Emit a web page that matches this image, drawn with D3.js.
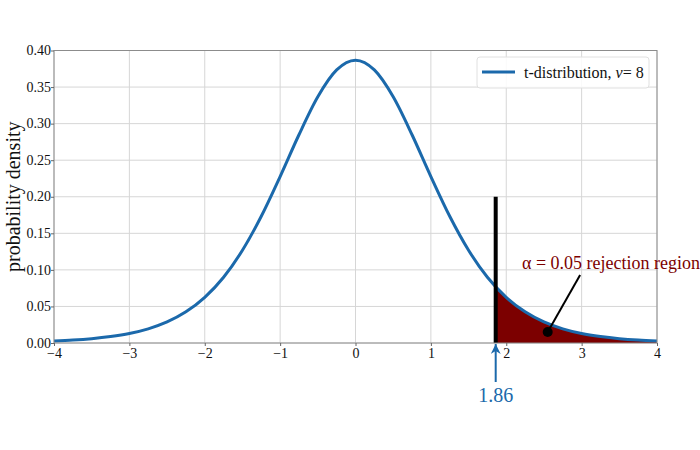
<!DOCTYPE html>
<html><head><meta charset="utf-8">
<script src="https://cdn.jsdelivr.net/npm/d3@7"></script>
<style>body{margin:0;background:#fff}svg{display:block}text{font-family:"Liberation Serif","DejaVu Serif",serif}</style>
</head><body><svg id="c" width="700" height="450"></svg>
<script>
const tValues = [-4,-3.75,-3.5,-3.25,-3,-2.75,-2.5,-2.25,-2,-1.75,-1.5,-1.25,-1,-0.75,-0.5,-0.25,0,0.25,0.5,0.75,1,1.25,1.5,1.75,2,2.25,2.5,2.75,3,3.25,3.5,3.75,4];
const density = [0.0028,0.0040,0.0059,0.0088,0.0130,0.0194,0.0288,0.0426,0.0624,0.0899,0.1268,0.1733,0.2276,0.2848,0.3367,0.3734,0.3867,0.3734,0.3367,0.2848,0.2276,0.1733,0.1268,0.0899,0.0624,0.0426,0.0288,0.0194,0.0130,0.0088,0.0059,0.0040,0.0028];
const critical = 1.86;
const criticalDensity = 0.0767;
const xTicks = [-4,-3,-2,-1,0,1,2,3,4];
const yTicks = [0,0.05,0.10,0.15,0.20,0.25,0.30,0.35,0.40];
const legendLabel = "t-distribution, ";
const annotationText = "α = 0.05 rejection region";

const svg = d3.select("#c");
const x = d3.scaleLinear().domain([-4,4]).range([54,657]);
const y = d3.scaleLinear().domain([0,0.4]).range([343,50.5]);
const blue = "#1b69ab", red = "#7c0000";

// grid
svg.append("g").selectAll("line").data(xTicks).join("line")
  .attr("x1",d=>x(d)).attr("x2",d=>x(d)).attr("y1",y(0)).attr("y2",y(0.4))
  .attr("stroke","#d6d6d6").attr("stroke-width",1);
svg.append("g").selectAll("line").data(yTicks).join("line")
  .attr("x1",x(-4)).attr("x2",x(4)).attr("y1",d=>y(d)).attr("y2",d=>y(d))
  .attr("stroke","#d6d6d6").attr("stroke-width",1);

const pts = tValues.map((t,i)=>[t,density[i]]);
const shade = [[critical,criticalDensity]].concat(pts.filter(p=>p[0]>critical));

svg.append("path").datum(shade)
  .attr("d", d3.area().x(d=>x(d[0])).y0(y(0)).y1(d=>y(d[1])).curve(d3.curveMonotoneX))
  .attr("fill", red);

svg.append("path").datum(pts)
  .attr("d", d3.line().x(d=>x(d[0])).y(d=>y(d[1])).curve(d3.curveMonotoneX))
  .attr("fill","none").attr("stroke",blue).attr("stroke-width",3);

// critical line
svg.append("line").attr("x1",x(critical)).attr("x2",x(critical)).attr("y1",y(0)).attr("y2",y(0.2))
  .attr("stroke","#000").attr("stroke-width",4);

// frame
svg.append("rect").attr("x",x(-4)).attr("y",y(0.4)).attr("width",x(4)-x(-4)).attr("height",y(0)-y(0.4))
  .attr("fill","none").attr("stroke","#8c8c8c").attr("stroke-width",1);

// axes
const xa = svg.append("g").attr("transform",`translate(0,${y(0)})`)
  .call(d3.axisBottom(x).tickValues(xTicks).tickSize(3).tickFormat(d=>d<0?"\u2212"+(-d):d));
const ya = svg.append("g").attr("transform",`translate(${x(-4)},0)`)
  .call(d3.axisLeft(y).tickValues(yTicks).tickSize(3).tickFormat(d3.format(".2f")));
[xa,ya].forEach(a=>{a.select(".domain").remove();a.selectAll("line").attr("stroke","#666");
  a.selectAll("text").attr("font-size",14).attr("fill","#111").style("font-family",'"Liberation Serif",serif');});
xa.selectAll("text").attr("dy","0.8em").attr("y",4);
ya.selectAll("text").attr("x",-3).attr("dy","0.3em");

svg.append("text").attr("transform",`translate(20,${(y(0)+y(0.4))/2}) rotate(-90)`)
  .attr("text-anchor","middle").attr("font-size",20).attr("fill","#111").text("probability density");

// legend
const lg = svg.append("g");
lg.append("rect").attr("x",477).attr("y",57).attr("width",172).attr("height",31).attr("rx",3)
  .attr("fill","#fff").attr("fill-opacity",0.85).attr("stroke","#e0e0e0");
lg.append("line").attr("x1",482).attr("x2",515).attr("y1",72).attr("y2",72).attr("stroke",blue).attr("stroke-width",3);
const lt = lg.append("text").attr("x",524).attr("y",77.5).attr("font-size",16).attr("fill","#111");
lt.append("tspan").text(legendLabel);
lt.append("tspan").attr("font-style","italic").text("ν");
lt.append("tspan").text("= 8");

// annotation
svg.append("line").attr("x1",x(2.55)).attr("y1",y(0.015)).attr("x2",x(2.98)).attr("y2",y(0.093))
  .attr("stroke","#000").attr("stroke-width",2);
svg.append("circle").attr("cx",x(2.55)).attr("cy",y(0.015)).attr("r",5).attr("fill","#000");
svg.append("text").attr("x",522).attr("y",269).attr("font-size",18).attr("fill",red).text(annotationText);

// critical arrow
const defs = svg.append("defs");
defs.append("marker").attr("id","ah").attr("viewBox","0 0 10 10").attr("refX",10).attr("refY",5)
  .attr("markerWidth",5).attr("markerHeight",5).attr("orient","auto")
  .append("path").attr("d","M0,0 L10,5 L0,10 L3,5 Z").attr("fill",blue);
svg.append("line").attr("x1",x(critical)).attr("x2",x(critical)).attr("y1",382).attr("y2",344)
  .attr("stroke",blue).attr("stroke-width",2).attr("marker-end","url(#ah)");
svg.append("text").attr("x",x(critical)).attr("y",402).attr("text-anchor","middle")
  .attr("font-size",20).attr("fill",blue).text(String(critical));
</script></body></html>
